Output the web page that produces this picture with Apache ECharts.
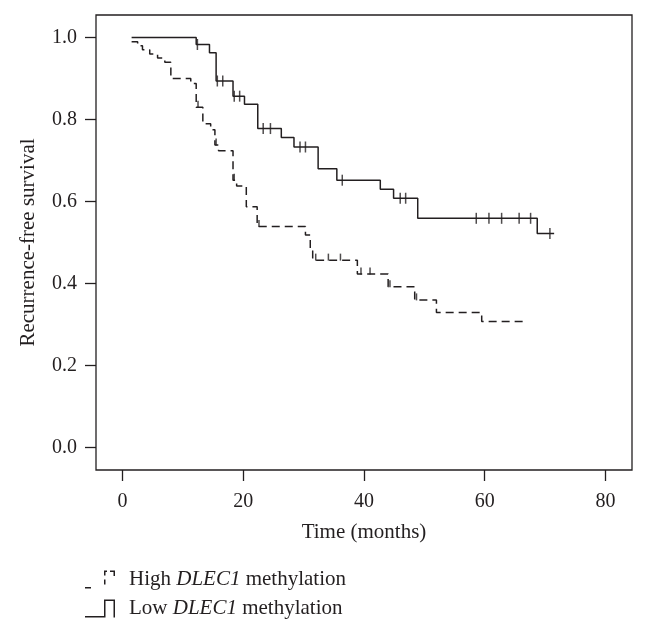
<!DOCTYPE html>
<html><head><meta charset="utf-8">
<script src="https://cdn.jsdelivr.net/npm/echarts@6/dist/echarts.min.js"></script>
<style>html,body{margin:0;padding:0;background:#fff}#c{width:646px;height:633px}</style>
</head><body><div id="c"></div>
<script>
const xTicks = [0, 20, 40, 60, 80];
const yTicks = [0, 0.2, 0.4, 0.6, 0.8, 1.0];

const highName = 'High DLEC1 methylation';
const lowName = 'Low DLEC1 methylation';

// Low methylation (solid) step points: time, survival after the step
const lowTime = [1.5, 12.2, 14.4, 15.5, 18.3, 20.2, 22.4, 26.3, 28.4, 32.4, 35.5, 42.7, 44.9, 48.9, 68.7, 71.5];
const lowSurv = [1.0, 0.983, 0.963, 0.894, 0.857, 0.837, 0.778, 0.756, 0.733, 0.680, 0.652, 0.630, 0.608, 0.559, 0.522, 0.522];
const lowCensorTime = [12.4, 15.7, 16.6, 18.5, 19.4, 23.3, 24.5, 29.4, 30.3, 36.4, 46.0, 46.9, 58.6, 60.7, 62.8, 65.7, 67.6, 70.8];
const lowCensorSurv = [0.983, 0.894, 0.894, 0.857, 0.857, 0.778, 0.778, 0.733, 0.733, 0.652, 0.608, 0.608, 0.559, 0.559, 0.559, 0.559, 0.559, 0.522];

// High methylation (dashed)
const highTime = [1.5, 2.5, 3.3, 4.5, 5.8, 7.0, 8.0, 11.3, 12.2, 13.3, 14.6, 15.3, 15.9, 18.3, 18.9, 20.5, 22.3, 30.3, 31.1, 31.5, 38.9, 44.0, 48.4, 52.0, 59.5, 67.1];
const highSurv = [0.99, 0.98, 0.97, 0.96, 0.95, 0.94, 0.90, 0.888, 0.83, 0.79, 0.775, 0.738, 0.724, 0.652, 0.638, 0.587, 0.539, 0.518, 0.48, 0.457, 0.423, 0.392, 0.36, 0.329, 0.307, 0.307];
const highCensorTime = [12.5, 15.5, 18.5, 22.6, 32.0, 34.1, 36.1, 39.5, 41.0, 44.3, 48.7];
const highCensorSurv = [0.83, 0.738, 0.652, 0.539, 0.457, 0.457, 0.457, 0.423, 0.423, 0.392, 0.36];

const ink = '#231f20';
const font = "'Liberation Serif', 'DejaVu Serif', serif";
const zip = (a, b) => a.map((v, i) => [v, b[i]]);

const solidIcon = 'path://M0,16.5h20v1.5h-20z M19,0h1.5v18h-1.5z M19,0h11v1.5h-11z M28.5,0h1.5v18h-1.5z';
const dashIcon = 'path://M0,16.5h6v1.5h-6z M19,0h3v1.5h-3z M19,0h1.5v5h-1.5z M19,9h1.5v5h-1.5z M25,0h5v1.5h-5z M28.5,0h1.5v5.5h-1.5z';

const chart = echarts.init(document.getElementById('c'), null, {renderer: 'canvas'});
chart.setOption({
  animation: false,
  backgroundColor: '#fff',
  grid: {left: 96, right: 14, top: 15, bottom: 163, show: true, borderColor: ink, borderWidth: 1.3, backgroundColor: 'transparent'},
  xAxis: {
    type: 'value', min: -4.4, max: 84.4,
    axisLine: {show: false, onZero: false}, splitLine: {show: false},
    axisTick: {show: true, customValues: xTicks, length: 11, lineStyle: {color: ink, width: 1.3}},
    axisLabel: {customValues: xTicks, margin: 22, color: ink, fontSize: 20, fontFamily: font},
    name: 'Time (months)', nameLocation: 'middle', nameGap: 52,
    nameTextStyle: {color: ink, fontSize: 21, fontFamily: font}
  },
  yAxis: {
    type: 'value', min: -0.055, max: 1.055,
    axisLine: {show: false, onZero: false}, splitLine: {show: false},
    axisTick: {show: true, customValues: yTicks, length: 11, lineStyle: {color: ink, width: 1.3}},
    axisLabel: {customValues: yTicks, margin: 19, color: ink, fontSize: 20, fontFamily: font,
      formatter: v => v.toFixed(1)},
    name: 'Recurrence-free survival', nameLocation: 'middle', nameGap: 57,
    nameTextStyle: {color: ink, fontSize: 21, fontFamily: font}
  },
  legend: {
    orient: 'vertical', left: 80, top: 564, itemWidth: 30, itemHeight: 18, itemGap: 8,
    selectedMode: false,
    itemStyle: {borderWidth: 0},
    data: [{name: highName, icon: dashIcon}, {name: lowName, icon: solidIcon}],
    formatter: n => n.replace('DLEC1', '{i|DLEC1}'),
    textStyle: {color: ink, fontSize: 21, lineHeight: 18, fontFamily: font, padding: [0, 0, 0, 9],
      rich: {i: {fontStyle: 'italic', color: ink, fontSize: 21, lineHeight: 18, fontFamily: font}}}
  },
  series: [
    {name: highName, type: 'line', step: 'end', showSymbol: false, data: zip(highTime, highSurv),
     color: ink, itemStyle: {color: ink}, lineStyle: {color: ink, width: 1.5, type: [8, 5]}},
    {name: lowName, type: 'line', step: 'end', showSymbol: false, data: zip(lowTime, lowSurv),
     color: ink, itemStyle: {color: ink}, lineStyle: {color: ink, width: 1.5}},
    {name: 'lowCensor', type: 'scatter', symbol: 'rect', symbolSize: [1.5, 11], data: zip(lowCensorTime, lowCensorSurv),
     itemStyle: {color: ink}},
    {name: 'highCensor', type: 'scatter', symbol: 'rect', symbolSize: [1.5, 7], symbolOffset: [0, -3], data: zip(highCensorTime, highCensorSurv),
     itemStyle: {color: ink}}
  ]
});
</script></body></html>
